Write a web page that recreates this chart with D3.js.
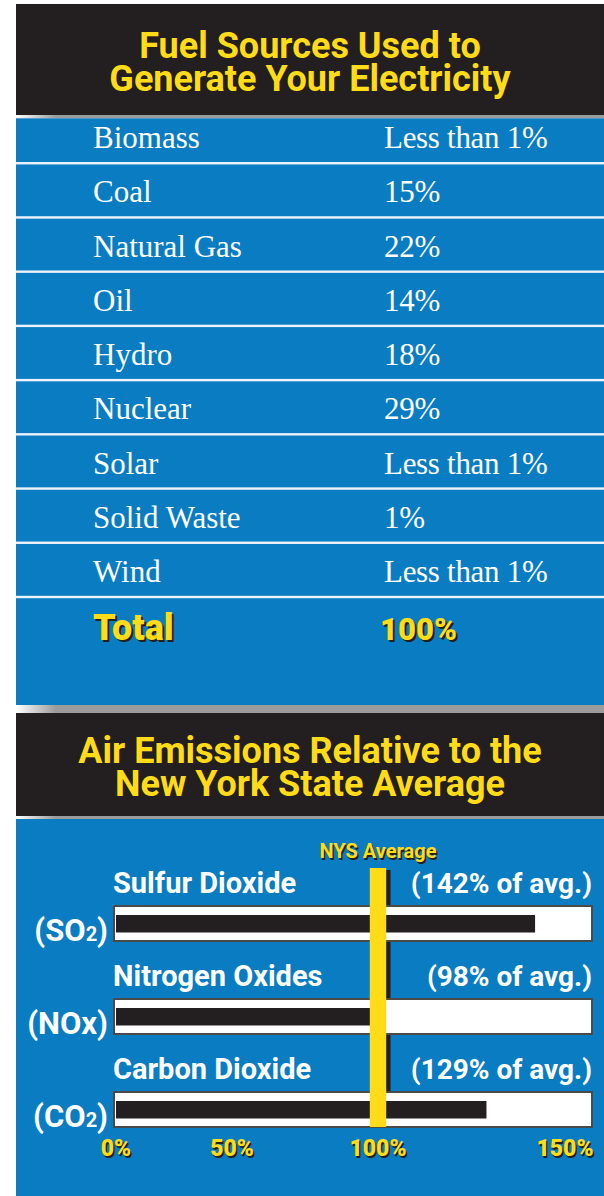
<!DOCTYPE html>
<html>
<head>
<meta charset="utf-8">
<script src="https://cdn.jsdelivr.net/npm/d3@7"></script>
<style>
  html, body { margin: 0; padding: 0; background: #ffffff; }
  svg { display: block; }
</style>
</head>
<body>
<div id="chart"></div>
<script>
// Fuel mix table
const FUEL_NAMES = ['Biomass', 'Coal', 'Natural Gas', 'Oil', 'Hydro', 'Nuclear', 'Solar', 'Solid Waste', 'Wind'];
const FUEL_SHARES = ['Less than 1%', '15%', '22%', '14%', '18%', '29%', 'Less than 1%', '1%', 'Less than 1%'];
const TOTAL_ROW = ['Total', '100%'];

// Emissions relative to state average
const EMISSION_NAMES = ['Sulfur Dioxide', 'Nitrogen Oxides', 'Carbon Dioxide'];
const EMISSION_FORMULAS = ['SO2', 'NOx', 'CO2'];
const EMISSION_PCT = [142, 98, 129];
const AXIS_TICKS = [0, 50, 100, 150];
const NYS_AVERAGE = 100;

const TITLE_FUEL = ['Fuel Sources Used to', 'Generate Your Electricity'];
const TITLE_AIR = ['Air Emissions Relative to the', 'New York State Average'];

const W = 604;
const H = 1196;
const LEFT = 16;
const BLUE = '#0a7cc2';
const INK = '#231f20';
const YELLOW = '#ffdc17';
const HEAD_FONT = 'Roboto, "Open Sans", "DejaVu Sans", sans-serif';
const BODY_FONT = '"Liberation Serif", "DejaVu Serif", serif';

const svg = d3.select('#chart').append('svg')
    .attr('width', W)
    .attr('height', H)
    .attr('viewBox', `0 0 ${W} ${H}`);

svg.append('rect').attr('width', W).attr('height', H).attr('fill', '#ffffff');

const grad = svg.append('defs').append('linearGradient')
    .attr('id', 'stripe')
    .attr('gradientUnits', 'userSpaceOnUse')
    .attr('x1', LEFT).attr('x2', LEFT + 40).attr('y1', 0).attr('y2', 0);
grad.append('stop').attr('offset', 0).attr('stop-color', '#ffffff');
grad.append('stop').attr('offset', 1).attr('stop-color', '#9b9b9b');

// background bands: [top, bottom, fill]
const bands = [
    [4, 115, INK], [115, 118.3, 'url(#stripe)'], [118.3, 705, BLUE],
    [705, 713, 'url(#stripe)'], [713, 816, INK], [816, 819, 'url(#stripe)'],
    [819, H, BLUE]
];
svg.selectAll('rect.band')
    .data(bands)
    .join('rect')
    .attr('class', 'band')
    .attr('x', LEFT)
    .attr('width', W - LEFT)
    .attr('y', (d) => d[0])
    .attr('height', (d) => d[1] - d[0])
    .attr('fill', (d) => d[2]);

// yellow text with a small dark drop shadow
function shadowText(parent, x, y, str, size, weight, anchor, off) {
    const g = parent.append('g').attr('font-family', HEAD_FONT)
        .attr('font-size', size).attr('font-weight', weight)
        .attr('text-anchor', anchor);
    g.append('text').attr('x', x + off).attr('y', y + off).attr('fill', INK).text(str);
    g.append('text').attr('x', x).attr('y', y).attr('fill', YELLOW).text(str);
    return g;
}

// titles: one text element per block, lines as tspans
const midX = LEFT + (W - LEFT) / 2;
function title(lines, base) {
    svg.append('text')
        .attr('x', midX)
        .attr('y', base)
        .attr('text-anchor', 'middle')
        .attr('font-family', HEAD_FONT)
        .attr('font-size', 36)
        .attr('font-weight', 700)
        .attr('fill', YELLOW)
        .selectAll('tspan')
        .data(lines)
        .join('tspan')
        .attr('x', midX)
        .attr('dy', (d, i) => (i === 0 ? 0 : 33))
        .text((d) => d);
}
title(TITLE_FUEL, 58);
title(TITLE_AIR, 763);

// ---- fuel table ----
const rowY = d3.scaleBand().domain(FUEL_NAMES).range([109, 597]).paddingInner(0);
const bw = rowY.bandwidth();

const table = svg.append('g');
table.selectAll('rect.sep')
    .data(FUEL_NAMES)
    .join('rect')
    .attr('class', 'sep')
    .attr('x', LEFT)
    .attr('width', W - LEFT)
    .attr('y', (d) => rowY(d) + bw - 1.2)
    .attr('height', 2.4)
    .attr('fill', '#eef3fa');

table.selectAll('text.name')
    .data(FUEL_NAMES)
    .join('text')
    .attr('class', 'name')
    .attr('x', 93)
    .attr('y', (d) => rowY(d) + bw - 15)
    .attr('font-family', BODY_FONT)
    .attr('font-size', 31)
    .attr('fill', '#ffffff')
    .text((d) => d);

table.selectAll('text.share')
    .data(FUEL_SHARES)
    .join('text')
    .attr('class', 'share')
    .attr('x', 384)
    .attr('y', (d, i) => rowY(FUEL_NAMES[i]) + bw - 15)
    .attr('font-family', BODY_FONT)
    .attr('font-size', 31)
    .attr('letter-spacing', -0.3)
    .attr('fill', '#ffffff')
    .text((d) => d);

shadowText(table, 93, 640, TOTAL_ROW[0], 36, 900, 'start', 2);
shadowText(table, 380, 640, TOTAL_ROW[1], 31, 900, 'start', 2);

// ---- emissions chart ----
// printed axis ticks are unevenly spaced, so the scale is piecewise over them
const x = d3.scaleLinear().domain(AXIS_TICKS).range([116, 232, 378, 565]);
const rows = d3.scaleBand().domain(EMISSION_NAMES).range([870, 1149]);
const boxRight = 593;
const avgX = x(NYS_AVERAGE);

const chart = svg.append('g');

// shadow of the average line (sits behind the boxes)
chart.append('rect')
    .attr('x', avgX + 8)
    .attr('y', 870)
    .attr('width', 4.5)
    .attr('height', 257)
    .attr('fill', INK);

chart.selectAll('rect.box')
    .data(EMISSION_NAMES)
    .join('rect')
    .attr('class', 'box')
    .attr('x', x(0) - 2)
    .attr('y', (d) => rows(d) + 36)
    .attr('width', boxRight - 1 - (x(0) - 2))
    .attr('height', 35)
    .attr('fill', '#ffffff')
    .attr('stroke', '#4a4a4a')
    .attr('stroke-width', 2);

chart.selectAll('rect.bar')
    .data(EMISSION_PCT)
    .join('rect')
    .attr('class', 'bar')
    .attr('x', x(0))
    .attr('y', (d, i) => rows(EMISSION_NAMES[i]) + 45)
    .attr('width', (d) => x(d) - x(0))
    .attr('height', 17.5)
    .attr('fill', INK);

chart.append('rect')
    .attr('x', avgX - 8.2)
    .attr('y', 868)
    .attr('width', 16.4)
    .attr('height', 259)
    .attr('fill', YELLOW);

chart.selectAll('text.ename')
    .data(EMISSION_NAMES)
    .join('text')
    .attr('class', 'ename')
    .attr('x', 113)
    .attr('y', (d) => rows(d) + 23)
    .attr('font-family', HEAD_FONT)
    .attr('font-size', 29)
    .attr('font-weight', 700)
    .attr('fill', '#ffffff')
    .text((d) => d);

chart.selectAll('text.evalue')
    .data(EMISSION_PCT)
    .join('text')
    .attr('class', 'evalue')
    .attr('x', 592)
    .attr('y', (d, i) => rows(EMISSION_NAMES[i]) + 23)
    .attr('text-anchor', 'end')
    .attr('font-family', HEAD_FONT)
    .attr('font-size', 28)
    .attr('font-weight', 700)
    .attr('fill', '#ffffff')
    .text((d) => `(${d}% of avg.)`);

// chemical formulas, digits drawn as subscripts
const formula = chart.selectAll('text.formula')
    .data(EMISSION_FORMULAS)
    .join('text')
    .attr('class', 'formula')
    .attr('x', 108)
    .attr('y', (d, i) => rows(EMISSION_NAMES[i]) + 71)
    .attr('text-anchor', 'end')
    .attr('font-family', HEAD_FONT)
    .attr('font-size', 31)
    .attr('font-weight', 700)
    .attr('fill', '#ffffff');
formula.each(function (d) {
    const t = d3.select(this);
    t.append('tspan').text('(');
    d.split('').forEach((ch) => {
        if (/\d/.test(ch)) {
            t.append('tspan').attr('font-size', 20).text(ch);
        } else {
            t.append('tspan').text(ch);
        }
    });
    t.append('tspan').text(')');
});

shadowText(chart, avgX, 858, 'NYS Average', 20, 700, 'middle', 1.5);

AXIS_TICKS.forEach((t) => {
    shadowText(chart, x(t), 1156, `${t}%`, 23, 900, 'middle', 1.5);
});
</script>
</body>
</html>
